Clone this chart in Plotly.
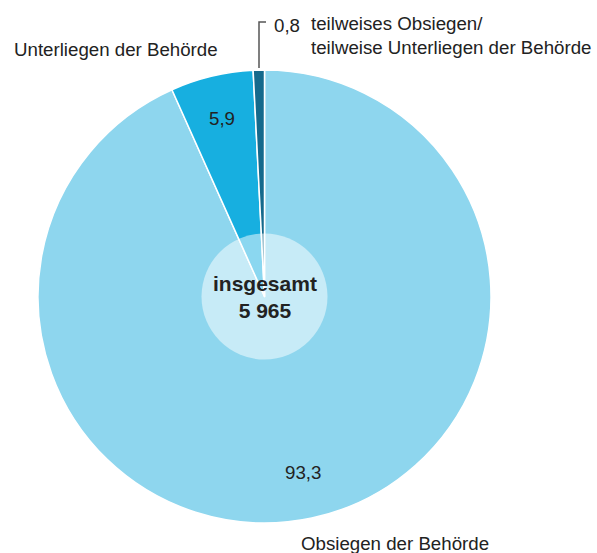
import plotly.graph_objects as go

categories = ["Obsiegen der Behörde", "Unterliegen der Behörde",
              "teilweises Obsiegen/<br>teilweise Unterliegen der Behörde"]
values = [93.3, 5.9, 0.8]
value_labels = ["93,3", "5,9", "0,8"]
total_label = "insgesamt<br>5 965"
colors = ["#8ed6ee", "#17afe0", "#156a8c"]

W, H = 597, 553
FONT = "Liberation Sans, Arial, Helvetica, sans-serif"
TXT = "#222222"
FS = 18.7

def px(x):
    return x / W

def py(y):
    return 1 - y / H

fig = go.Figure(go.Pie(
    labels=categories,
    values=values,
    sort=False,
    direction="clockwise",
    rotation=0,
    marker=dict(colors=colors, line=dict(color="white", width=1.5)),
    textinfo="none",
    hoverinfo="label+value",
    showlegend=False,
    domain=dict(x=[px(38), px(491)], y=[py(523), py(70)]),
))

# inner translucent circle
fig.add_shape(type="circle", xref="paper", yref="paper",
              x0=px(201.5), x1=px(327.5), y0=py(359.5), y1=py(233.5),
              fillcolor="rgba(255,255,255,0.5)", line=dict(width=0), layer="above")

# leader line for small slice
fig.add_shape(type="path", xref="paper", yref="paper",
              path=f"M {px(259)} {py(68)} L {px(259)} {py(22)} L {px(266)} {py(22)}",
              line=dict(color="#555555", width=1.5), layer="above")

ann = []
def A(text, x, y, xa="center", size=FS, bold=False):
    ann.append(dict(text=f"<b>{text}</b>" if bold else text, x=px(x), y=py(y),
                    xref="paper", yref="paper", xanchor=xa, yanchor="middle",
                    showarrow=False, align="left" if xa == "left" else "center",
                    font=dict(family=FONT, size=size, color=TXT)))

A(value_labels[0], 303, 472)
A(value_labels[1], 222, 118)
A(value_labels[2], 272, 25, xa="left")
A(categories[0], 395, 543)
A(categories[1], 12, 50, xa="left")
ann.append(dict(text=categories[2], x=px(309), y=py(35), xref="paper", yref="paper",
                xanchor="left", yanchor="middle", showarrow=False, align="left",
                font=dict(family=FONT, size=FS, color=TXT)))
ann.append(dict(text="<b>" + total_label + "</b>", x=px(265), y=py(297), xref="paper", yref="paper",
                xanchor="center", yanchor="middle", showarrow=False, align="center",
                font=dict(family=FONT, size=21, color=TXT)))

fig.update_layout(width=W, height=H, margin=dict(l=0, r=0, t=0, b=0),
                  paper_bgcolor="white", plot_bgcolor="white",
                  annotations=ann)

fig.write_html("out.html", config={"displayModeBar": False},
               post_script="document.body.style.margin='0';document.body.style.padding='0';")
